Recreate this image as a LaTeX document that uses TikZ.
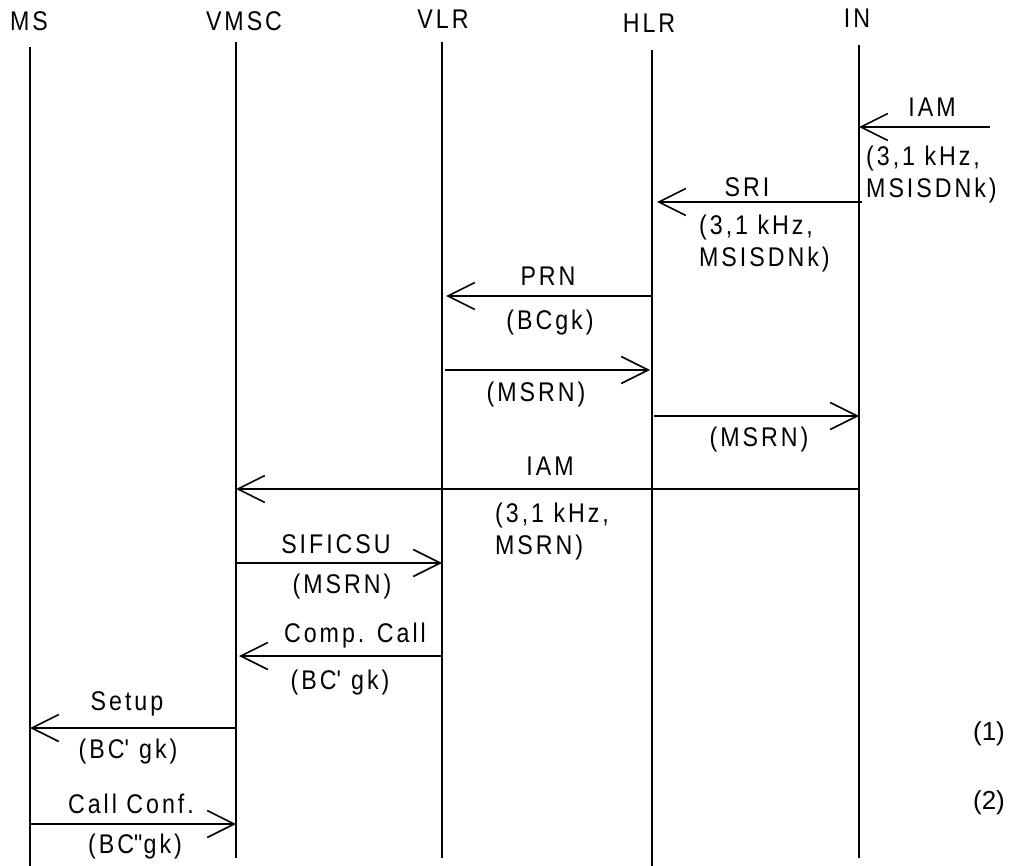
\documentclass[tikz,border=0pt]{standalone}
\usepackage{fontspec}
\setmainfont{Liberation Sans}[FakeStretch=0.86, LetterSpace=11]
\newfontfamily\numfont{Liberation Sans}
\usetikzlibrary{arrows.meta, positioning}
\tikzset{
  x=1pt, y=-1pt,
  >={Straight Barb[length=27pt, width=27pt]},
  ent/.style={inner sep=0pt, font=\fontsize{27}{32}\selectfont},
  lbl/.style={inner sep=0pt, align=center, font=\fontsize{27}{32}\selectfont},
  lbll/.style={lbl, align=left, anchor=west},
  life/.style={line width=1.6pt},
  msg/.style={->, line width=1.6pt},
}
\newcommand{\tick}{\textquotesingle}
\begin{document}
\begin{tikzpicture}
  \useasboundingbox (0,0) rectangle (1015,866);
  % entities and lifelines
  \node[ent] (ms) at (29,21) {MS};
  \node[ent] (vmsc) at (244,21) {VMSC};
  \node[ent] (vlr) at (443,19) {VLR};
  \node[ent] (hlr) at (649,23) {HLR};
  \node[ent] (in) at (857,18) {IN};
  \coordinate (msT) at (30,47);    \coordinate (msB) at (30,866);
  \coordinate (vmscT) at (236,42); \coordinate (vmscB) at (236,858);
  \coordinate (vlrT) at (442,42);  \coordinate (vlrB) at (442,858);
  \coordinate (hlrT) at (652,50);  \coordinate (hlrB) at (652,866);
  \coordinate (inT) at (859,45);   \coordinate (inB) at (859,858);
  \foreach \l in {ms, vmsc, vlr, hlr, in} \draw[life] (\l T) -- (\l B);

  % messages
  \coordinate (iamin) at (990,127);
  \draw[msg] (iamin) -- (iamin -| inT);
  \node[lbl] (iam1) at (932,107) {IAM};
  \node[lbll] (iam1p) at (866,175) {(3,1 kHz,\\MSISDNk)};

  \coordinate (sri) at (862,202);
  \draw[msg] (sri) -- ([xshift=5pt]sri -| hlrT);
  \node[lbl] (srilbl) at (747,187) {SRI};
  \node[lbll] (srip) at (699,244) {(3,1 kHz,\\MSISDNk)};

  \coordinate (prn) at (0,296);
  \draw[msg] (prn -| hlrT) -- ([xshift=4pt]prn -| vlrT);
  \node[lbl] (prnlbl) at (548,276) {PRN};
  \node[lbl] (prnp) at (550,323) {(BCgk)};

  \coordinate (prnack) at (0,370);
  \draw[msg] ([xshift=3pt]prnack -| vlrT) -- ([xshift=-2pt]prnack -| hlrT);
  \node[lbl] (prnackp) at (536,395) {(MSRN)};

  \coordinate (sriack) at (0,416);
  \draw[msg] ([xshift=2pt]sriack -| hlrT) -- (sriack -| inT);
  \node[lbl] (sriackp) at (759,440) {(MSRN)};

  \coordinate (iam2) at (0,489);
  \draw[msg] (iam2 -| inT) -- (iam2 -| vmscT);
  \node[lbl] (iam2lbl) at (550,466) {IAM};
  \node[lbll] (iam2p) at (495,532) {(3,1 kHz,\\MSRN)};

  \coordinate (sific) at (0,563);
  \draw[msg] (sific -| vmscT) -- (sific -| vlrT);
  \node[lbl] (sificlbl) at (336,544) {SIFICSU};
  \node[lbl] (sificp) at (342,587) {(MSRN)};

  \coordinate (comp) at (0,656);
  \draw[msg] (comp -| vlrT) -- ([xshift=3pt]comp -| vmscT);
  \node[lbl] (complbl) at (355,636) {Comp. Call};
  \node[lbl] (compp) at (340,683) {(BC\tick{} gk)};

  \coordinate (setup) at (0,728);
  \draw[msg] (setup -| vmscT) -- (setup -| msT);
  \node[lbl] (setuplbl) at (127,704) {Setup};
  \node[lbl] (setupp) at (128,752) {(BC\tick{} gk)};

  \coordinate (conf) at (0,824);
  \draw[msg] (conf -| msT) -- (conf -| vmscT);
  \node[lbl] (conflbl) at (131,804) {Call Conf.};
  \node[lbl] (confp) at (135,847) {(BC\textquotedbl gk)};

  % step numbers
  \node[lbl, font=\numfont\fontsize{26}{32}\selectfont] (n1) at (989,734) {(1)};
  \node[lbl, font=\numfont\fontsize{26}{32}\selectfont] (n2) at (989,803) {(2)};
\end{tikzpicture}
\end{document}
